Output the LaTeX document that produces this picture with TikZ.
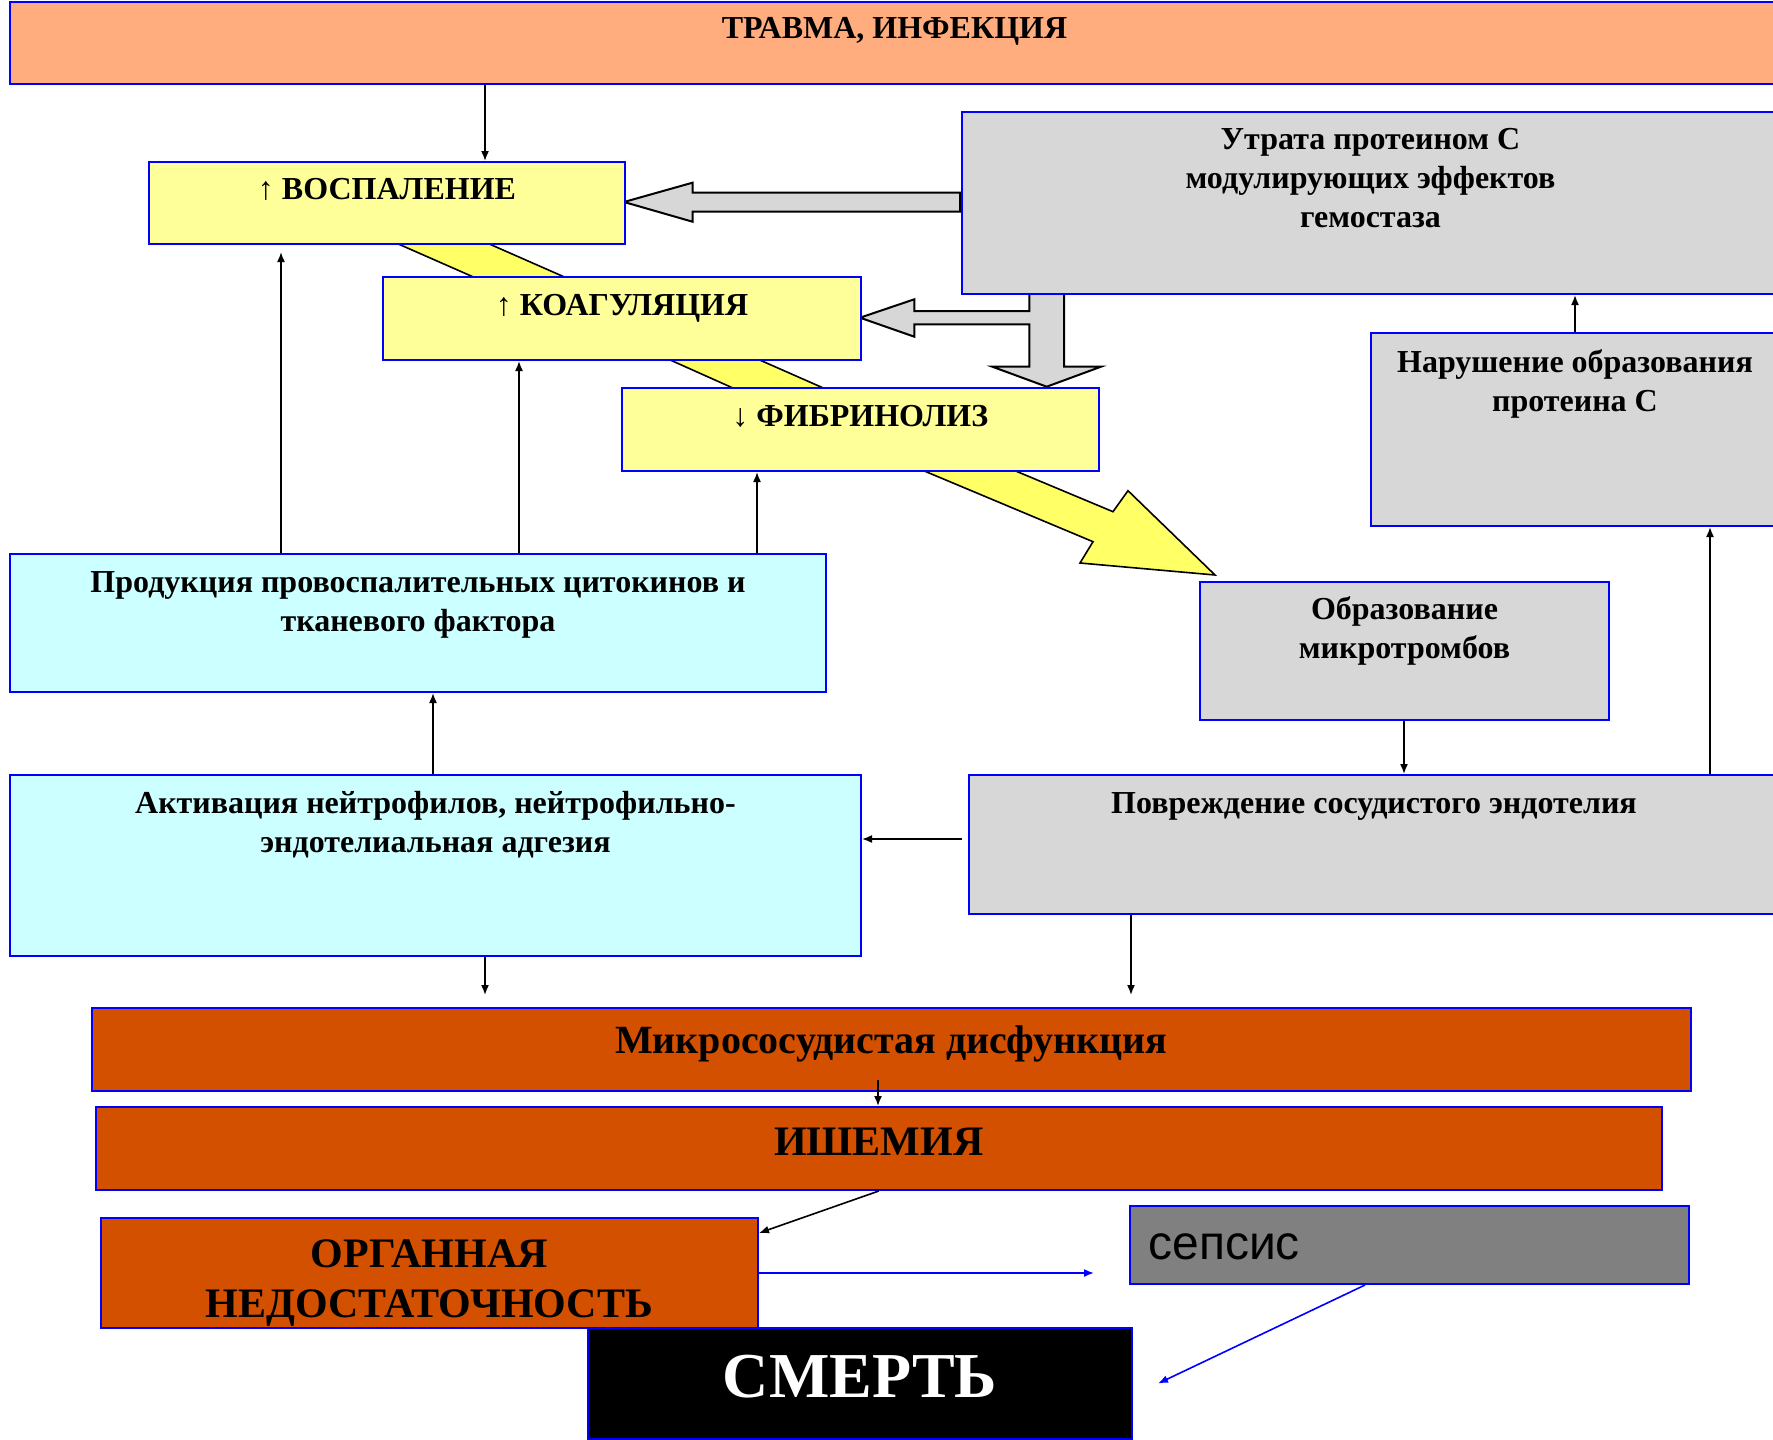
\documentclass[tikz,border=0pt]{standalone}
\usepackage{fontspec}
\setmainfont{Liberation Serif}
\newfontfamily\sepsfont{Liberation Sans}
\usetikzlibrary{arrows.meta,positioning}

\definecolor{traumafill}{HTML}{FFAD7F}
\definecolor{yellowfill}{HTML}{FFFF99}
\definecolor{greyfill}{HTML}{D7D7D7}
\definecolor{cyanfill}{HTML}{CCFFFF}
\definecolor{redfill}{HTML}{D35000}
\definecolor{sepsfill}{HTML}{808080}
\definecolor{bandfill}{HTML}{FFFF66}

\tikzset{
  box/.style={
    draw=blue,
    line width=1pt,
    inner sep=0pt,
    anchor=north west,
  },
  caption/.style={
    font=\bfseries\fontsize{16}{19.5}\selectfont,
    align=center,
    inner sep=0pt,
    anchor=base,
  },
  conn/.style={
    arrows={-Latex[length=5pt,width=4pt]},
    line width=0.8pt,
  },
  blockarrow/.style={
    fill=greyfill,
    draw=black,
    line width=1pt,
  },
  band/.style={
    fill=bandfill,
    draw=black,
    line width=0.8pt,
  }
}

\begin{document}
\begin{tikzpicture}[x=0.5pt, y=-0.5pt]
    \useasboundingbox (0,0) rectangle (1773,1440);

    % yellow bands between the cascade boxes
    \draw[band] (366.5,230) -- (503,290) -- (594,290) -- (457.5,230) -- cycle;
    \draw[band] (636.7,345) -- (759.7,400) -- (850.5,400) -- (725.7,345) -- cycle;
    \draw[band] (895,458.7) -- (1093,541.7) -- (1080,563) -- (1215,575) -- (1128,490.7) -- (1113,511.7) -- (986.3,458.7) -- cycle;

    % grey block arrows from protein C box
    \draw[blockarrow] (960,192.7) -- (692.5,192.7) -- (692.5,182.7) -- (624,202) -- (692.5,221.7) -- (692.5,211.7) -- (960,211.7) -- cycle;
    \draw[blockarrow] (1029.3,290) -- (1029.3,311) -- (914.3,311) -- (914.3,299.3) -- (860,317.7) -- (914.3,336.7) -- (914.3,324.3)
        -- (1029.3,324.3) -- (1029.3,366.7) -- (992.3,366.7) -- (1046.7,386.7) -- (1101,366.7) -- (1064,366.7) -- (1064,290);

    % boxes
    \node[box, fill=traumafill, minimum width=884.5pt, minimum height=41pt] (trauma) at (9,1) {};
    \node[box, fill=yellowfill, minimum width=238pt, minimum height=41pt] (vos) at (148,161) {};
    \node[box, fill=yellowfill, minimum width=239pt, minimum height=41.5pt] (koag) at (382,276) {};
    \node[box, fill=yellowfill, minimum width=238.25pt, minimum height=41.5pt] (fib) at (621,387) {};
    \node[box, fill=greyfill, minimum width=408.5pt, minimum height=91pt] (utr) at (961,111) {};
    \node[box, fill=greyfill, minimum width=204pt, minimum height=96.5pt] (nar) at (1370,332) {};
    \node[box, fill=cyanfill, minimum width=408pt, minimum height=69pt] (prod) at (9,553) {};
    \node[box, fill=greyfill, minimum width=204.5pt, minimum height=69pt] (obr) at (1199,581) {};
    \node[box, fill=cyanfill, minimum width=425.5pt, minimum height=90.5pt] (akt) at (9,774) {};
    \node[box, fill=greyfill, minimum width=405pt, minimum height=69.5pt] (povr) at (968,774) {};
    \node[box, fill=redfill, minimum width=799.75pt, minimum height=41.5pt] (mikro) at (90.5,1007) {};
    \node[box, fill=redfill, minimum width=782.8pt, minimum height=41.5pt] (ish) at (95,1106) {};
    \node[box, fill=redfill, minimum width=328.75pt, minimum height=55pt] (org) at (99.5,1217) {};
    \node[box, fill=sepsfill, minimum width=279.5pt, minimum height=39pt] (seps) at (1129,1205) {};
    \node[box, fill=black, minimum width=272pt, minimum height=55.5pt] (smert) at (587,1327) {};

    % texts (base = last line)
    \node[caption] (traumaT) at ([yshift=-19pt]trauma.north) {ТРАВМА, ИНФЕКЦИЯ};
    \node[caption] (vosT) at ([yshift=-19pt]vos.north) {↑ ВОСПАЛЕНИЕ};
    \node[caption] (koagT) at ([yshift=-19.5pt]koag.north) {↑ КОАГУЛЯЦИЯ};
    \node[caption] (fibT) at ([yshift=-19.5pt]fib.north) {↓ ФИБРИНОЛИЗ};
    \node[caption] (utrT) at ([yshift=-58pt]utr.north) {Утрата протеином С\\модулирующих эффектов\\гемостаза};
    \node[caption] (narT) at ([yshift=-39.5pt]nar.north) {Нарушение образования\\протеина С};
    \node[caption] (prodT) at ([yshift=-39pt]prod.north) {Продукция провоспалительных цитокинов и\\тканевого фактора};
    \node[caption] (obrT) at ([yshift=-38.5pt]obr.north) {Образование\\микротромбов};
    \node[caption] (aktT) at ([yshift=-39pt]akt.north) {Активация нейтрофилов, нейтрофильно-\\эндотелиальная адгезия};
    \node[caption] (povrT) at ([yshift=-19.5pt]povr.north) {Повреждение сосудистого эндотелия};
    \node[caption, font=\bfseries\fontsize{20}{24}\selectfont] (mikroT) at ([yshift=-23pt]mikro.north) {Микрососудистая дисфункция};
    \node[caption, font=\bfseries\fontsize{21}{25}\selectfont] (ishT) at ([yshift=-24.5pt]ish.north) {ИШЕМИЯ};
    \node[caption, font=\bfseries\fontsize{21}{25}\selectfont] (orgT) at ([yshift=-50pt]org.north) {ОРГАННАЯ\\НЕДОСТАТОЧНОСТЬ};
    \node[caption, anchor=base west, font=\sepsfont\fontsize{24}{28}\selectfont] (sepsT) at ([xshift=9.5pt, yshift=-27pt]seps.north west) {сепсис};
    \node[caption, text=white, font=\bfseries\fontsize{32}{38}\selectfont] (smertT) at ([yshift=-35pt]smert.north) {СМЕРТЬ};

    % connectors
    \draw[conn] (485,0 |- trauma.south) -- (485,0 |- vos.north);
    \draw[conn, shorten >=3.5pt] (281,0 |- prod.north) -- (281,0 |- vos.south);
    \draw[conn] (519,0 |- prod.north) -- (519,0 |- koag.south);
    \draw[conn] (757,0 |- prod.north) -- (757,0 |- fib.south);
    \draw[conn] (433,0 |- akt.north) -- (433,0 |- prod.south);
    \draw[conn] (1404,0 |- obr.south) -- (1404,0 |- povr.north);
    \draw[conn] (1710,0 |- povr.north) -- (1710,0 |- nar.south);
    \draw[conn] (nar.north) -- (nar.north |- utr.south);
    \draw[conn, shorten <=3pt] (povr.west |- 0,839) -- (akt.east |- 0,839);
    \draw[conn, shorten >=6pt] (485,0 |- akt.south) -- (485,0 |- mikro.north);
    \draw[conn, shorten >=6pt] (1131,0 |- povr.south) -- (1131,0 |- mikro.north);
    \draw[conn, shorten <=-6pt] (878,0 |- mikro.south) -- (878,0 |- ish.north);
    \draw[conn] (ish.south) -- ([yshift=-8pt]org.north east);
    \draw[conn, blue, shorten >=17.5pt] (org.east) -- (seps.west |- org.east);
    \draw[conn, blue] (1365,0 |- seps.south) -- ([xshift=12.5pt]smert.east);

\end{tikzpicture}
\end{document}
